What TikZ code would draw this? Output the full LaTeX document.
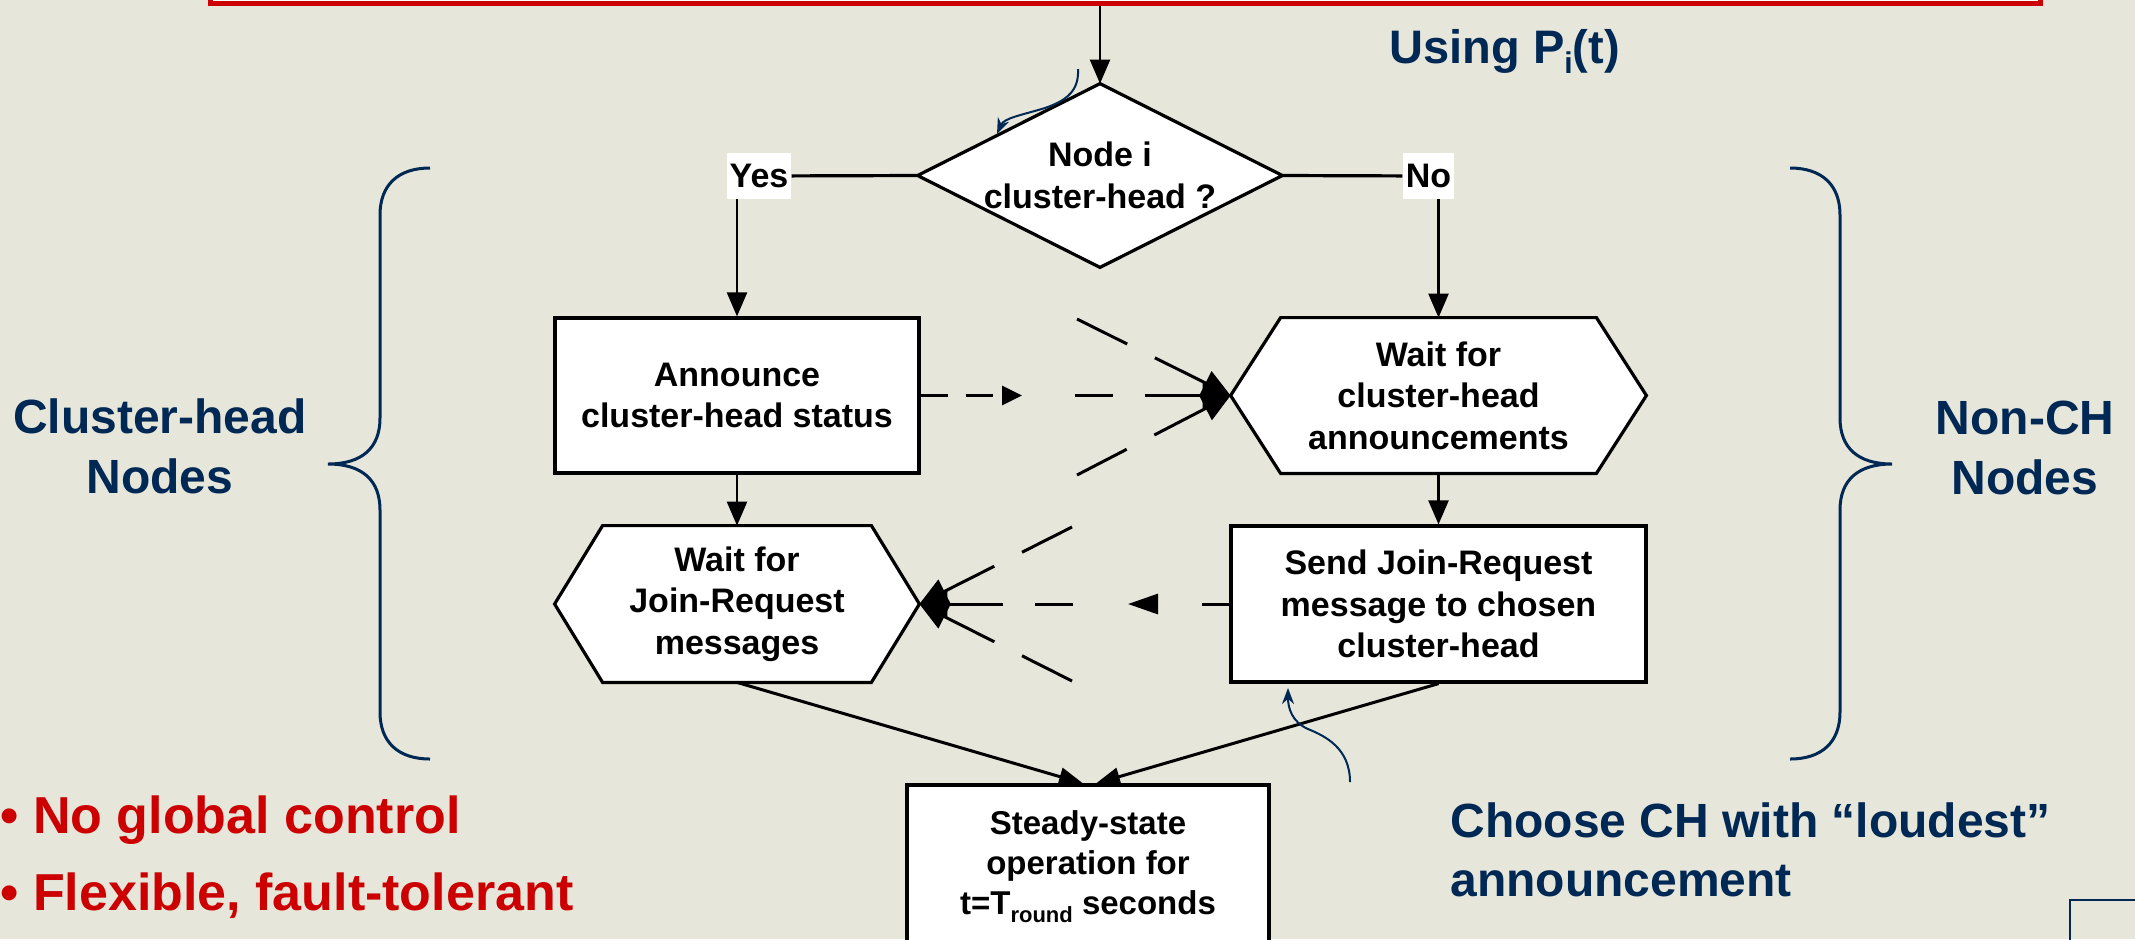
\documentclass[tikz,border=0pt]{standalone}
\usepackage{fontspec}
\setmainfont{Liberation Sans}
\usetikzlibrary{arrows.meta}
\definecolor{bgc}{RGB}{230,230,218}
\definecolor{navy}{RGB}{0,40,85}
\definecolor{redc}{RGB}{204,0,0}
\pgfdeclarelayer{bg}
\pgfsetlayers{bg,main}
\begin{document}
\begin{tikzpicture}[x=0.5pt,y=-0.5pt,
  bx/.style={font=\fontsize{17pt}{20.75pt}\selectfont\bfseries, align=center},
  rectbox/.style={bx, draw, line width=1.6pt, fill=white, minimum width=#1, minimum height=77.5pt, inner sep=2pt},
  hexbox/.style={bx, minimum width=#1, minimum height=77.5pt, inner sep=0pt},
  shapeline/.style={line width=1.6pt, draw=black, fill=white},
  conn/.style={line width=1.2pt, -{Triangle[length=12pt,width=10pt]}},
  plainline/.style={line width=1.6pt},
  lbl/.style={bx, fill=white, inner xsep=1.5pt, inner ysep=0pt, minimum height=23pt},
  bcast/.style={line width=1.5pt, dash pattern=on 28pt off 15.5pt on 60pt off 1pt, -{Triangle[length=14pt,width=13pt]}},
  bcasth/.style={line width=1.5pt, dash pattern=on 19pt off 16pt on 60pt off 1pt, -{Triangle[length=14pt,width=13pt]}},
  navytxt/.style={text=navy, font=\fontsize{24pt}{30pt}\selectfont\bfseries},
  redtxt/.style={text=redc, font=\fontsize{26pt}{38.5pt}\selectfont\bfseries},
  bracestyle/.style={draw=navy, line width=1.5pt},
  callout/.style={draw=navy, line width=1pt, -{Stealth[length=8pt,width=6pt]}}
]
\useasboundingbox (0,0) rectangle (2135,939);

% top red box (only its lower part is visible)
\node[draw=redc, line width=2.5pt, fill=white, minimum width=915pt, minimum height=50pt, inner sep=0pt] (redbox) at (1125,-47) {};

% decision
\node[bx, minimum width=182pt, minimum height=91.5pt, inner sep=0pt] (dec) at (1100,175.5) {Node i\\cluster-head ?};
\node[lbl] (yes) at (759,176) {Yes};
\node[lbl] (no) at (1428.5,176) {No};

% boxes
\node[rectbox=182pt] (announce) at (737,395.5) {Announce\\cluster-head status};
\node[hexbox=207.5pt] (waitch) at (1438.5,395.5) {Wait for\\cluster-head\\announcements};
\node[hexbox=182pt, minimum height=78pt] (waitjr) at (737,604) {Wait for\\Join-Request\\messages};
\node[rectbox=207.5pt, minimum height=78pt] (send) at (1438.5,604) {Send Join-Request\\message to chosen\\cluster-head};
\node[bx, draw, line width=1.6pt, fill=white, minimum width=181pt, minimum height=82pt, inner sep=0pt,
      font=\fontsize{16.5pt}{20pt}\selectfont\bfseries] (steady) at (1088,867)
  {Steady-state\\operation for\\t=T\raisebox{-4pt}{\fontsize{11pt}{11pt}\selectfont round} seconds};

\begin{pgfonlayer}{bg}
  \fill[bgc] (0,0) rectangle (2135,939);
  \draw[shapeline] (dec.north) -- (dec.east) -- (dec.south) -- (dec.west) -- cycle;
  \draw[shapeline] ([xshift=25pt]waitch.north west) -- ([xshift=-25pt]waitch.north east) -- (waitch.east)
     -- ([xshift=-25pt]waitch.south east) -- ([xshift=25pt]waitch.south west) -- (waitch.west) -- cycle;
  \draw[shapeline] ([xshift=24pt]waitjr.north west) -- ([xshift=-24pt]waitjr.north east) -- (waitjr.east)
     -- ([xshift=-24pt]waitjr.south east) -- ([xshift=24pt]waitjr.south west) -- (waitjr.west) -- cycle;
\end{pgfonlayer}

% connectors
\draw[conn] (redbox.south -| dec.north) -- (dec.north);
\draw[plainline] (yes) -- (dec.west);
\draw[plainline] (dec.east) -- (no);
\draw[conn] (yes.south -| announce.north) -- (announce.north);
\draw[conn] (no.south -| waitch.north) -- (waitch.north);
\draw[conn] (announce.south) -- (waitjr.north);
\draw[conn] (waitch.south) -- (send.north);
\draw[line width=1.5pt, -{Triangle[length=12pt,width=9pt]}] (waitjr.south) -- ([xshift=-2.5pt]steady.north);
\draw[line width=1.5pt, -{Triangle[length=12pt,width=9pt]}] (send.south) -- ([xshift=4pt]steady.north);

% dashed announcement arrows
\coordinate (m1) at (1022,395.5);
\draw[line width=1.5pt, dash pattern=on 13.5pt off 9pt, -{Triangle[length=10pt,width=9.5pt]}] (announce.east) -- (m1);
\coordinate (b1) at (1077,319);
\coordinate (b2) at (1075,395.5);
\coordinate (b3) at (1077,475);
\draw[bcast] (b1) -- (waitch.west);
\draw[bcasth] (b2) -- (waitch.west);
\draw[bcast] (b3) -- (waitch.west);

\coordinate (m2) at (1128,604);
\draw[line width=1.5pt, dash pattern=on 13.5pt off 23pt, -{Triangle[length=15pt,width=10pt]}] (send.west) -- (m2);
\coordinate (c1) at (1072,527);
\coordinate (c2) at (1073,604);
\coordinate (c3) at (1072,681);
\draw[bcast] (c1) -- (waitjr.east);
\draw[bcasth] (c2) -- (waitjr.east);
\draw[bcast] (c3) -- (waitjr.east);

% braces
\draw[bracestyle] (430,168) .. controls (398,168) and (380,185) .. (380,215) -- (380,418)
  .. controls (380,448) and (362,464) .. (328,464) .. controls (362,464) and (380,480) .. (380,510)
  -- (380,712) .. controls (380,742) and (398,759) .. (430,759);
\draw[bracestyle] (1790,168) .. controls (1822,168) and (1840,185) .. (1840,215) -- (1840,418)
  .. controls (1840,448) and (1858,464) .. (1892,464) .. controls (1858,464) and (1840,480) .. (1840,510)
  -- (1840,712) .. controls (1840,742) and (1822,759) .. (1790,759);

% side labels
\node[navytxt, align=center, inner sep=0pt] (chlabel) at (160,446) {Cluster-head\\Nodes};
\node[navytxt, align=center, inner sep=0pt] (nonch) at (2025,448) {Non-CH\\Nodes};

% Using P_i(t)
\node[text=navy, font=\fontsize{23.5pt}{27pt}\selectfont\bfseries, anchor=base west, inner sep=0pt] (using) at (1389,63)
  {Using P\raisebox{-5pt}{\fontsize{15pt}{15pt}\selectfont i}(t)};

% callouts
\coordinate (cA) at (1078,69);
\coordinate (cB) at (997,134);
\draw[callout] (cA) .. controls (1079,90) and (1068,100) .. (1045,108) .. controls (1022,115) and (1004,118) .. (cB);
\coordinate (dA) at (1350,782);
\coordinate (dB) at (1288,688);
\draw[callout] (dA) .. controls (1350,748) and (1325,736) .. (1308,729) .. controls (1292,722) and (1288,708) .. (dB);

% bottom texts
\node[redtxt, anchor=base west, inner sep=0pt] (bul1) at (0,833) {• No global control};
\node[redtxt, anchor=base west, inner sep=0pt] (bul2) at (0,910) {• Flexible, fault-tolerant};
\node[navytxt, font=\fontsize{24pt}{29.5pt}\selectfont\bfseries, align=left, anchor=west, inner sep=0pt] (choose) at (1450,850)
  {Choose CH with “loudest”\\announcement};

% small box at bottom right
\draw[navy, line width=1.2pt] (2070,900) rectangle (2200,1000);
\end{tikzpicture}
\end{document}
